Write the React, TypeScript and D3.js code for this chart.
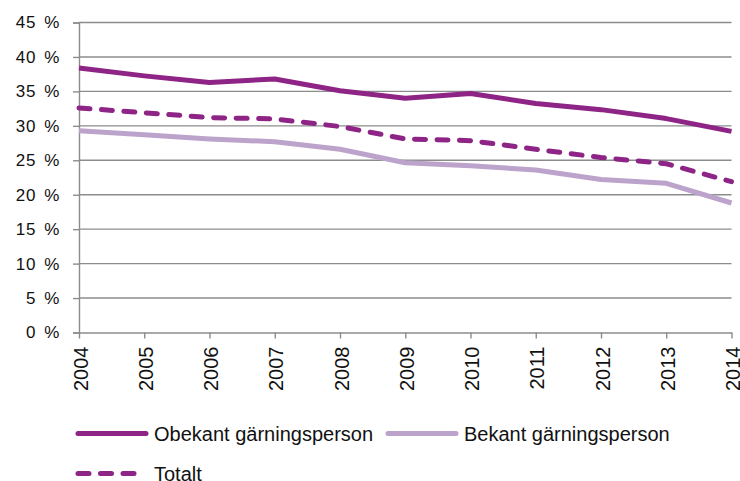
import React, { useRef, useEffect } from "react";
import * as d3 from "d3";

const years = ["2004", "2005", "2006", "2007", "2008", "2009", "2010", "2011", "2012", "2013", "2014"];
const obekant = [38.4, 37.25, 36.3, 36.8, 35.1, 34.0, 34.7, 33.25, 32.35, 31.05, 29.2];
const bekant = [29.3, 28.7, 28.1, 27.7, 26.6, 24.65, 24.2, 23.6, 22.2, 21.65, 18.8];
const totalt = [32.6, 31.9, 31.2, 31.0, 29.9, 28.1, 27.85, 26.6, 25.4, 24.5, 21.9];
const yTicks = [0, 5, 10, 15, 20, 25, 30, 35, 40, 45];

const series = [
  { name: "Bekant gärningsperson", values: bekant, color: "#bca3cb", dash: null },
  { name: "Totalt", values: totalt, color: "#8e2486", dash: "11 11.5" },
  { name: "Obekant gärningsperson", values: obekant, color: "#8e2486", dash: null },
];

const FONT = "'Liberation Sans', Arial, Helvetica, sans-serif";

function App() {
  const svgRef = useRef<SVGSVGElement>(null);

  useEffect(() => {
    const svg = d3.select(svgRef.current);
    svg.selectAll("*").remove();

    const x = d3.scalePoint().domain(years).range([79, 731.5]);
    const y = d3.scaleLinear().domain([0, 45]).range([332.5, 22.5]);
    const grey = "#8c8c8c";

    // gridlines
    svg
      .append("g")
      .selectAll("line")
      .data(yTicks.filter((d) => d > 0))
      .join("line")
      .attr("x1", 79)
      .attr("x2", 731.5)
      .attr("y1", (d) => y(d))
      .attr("y2", (d) => y(d))
      .attr("stroke", grey)
      .attr("stroke-width", 1.4);

    // y axis
    const yAxis = svg
      .append("g")
      .attr("transform", "translate(79,0)")
      .call(
        d3
          .axisLeft(y)
          .tickValues(yTicks)
          .tickSize(6)
          .tickPadding(13)
          .tickFormat((d) => d + " %")
      );
    yAxis.select(".domain").attr("stroke", grey).attr("stroke-width", 1.4);
    yAxis.selectAll(".tick line").attr("stroke", grey).attr("stroke-width", 1.4);
    yAxis
      .selectAll(".tick text")
      .attr("font-family", FONT)
      .attr("font-size", 17)
      .attr("letter-spacing", 0.6)
      .attr("word-spacing", 3)
      .attr("fill", "#111");

    // x axis
    const xAxis = svg
      .append("g")
      .attr("transform", "translate(0,332.5)")
      .call(d3.axisBottom(x).tickSize(6).tickSizeOuter(0));
    xAxis.select(".domain").attr("stroke", grey).attr("stroke-width", 1.4);
    xAxis.selectAll(".tick line").attr("stroke", grey).attr("stroke-width", 1.4);
    xAxis
      .selectAll(".tick text")
      .attr("font-family", FONT)
      .attr("font-size", 20)
      .attr("fill", "#111")
      .attr("text-anchor", "end")
      .attr("transform", "translate(1,14) rotate(-90)")
      .attr("x", 0)
      .attr("y", 0)
      .attr("dy", "0.36em");

    // lines
    const line = d3
      .line<number>()
      .x((_, i) => x(years[i]) as number)
      .y((d) => y(d));

    svg
      .append("g")
      .selectAll("path")
      .data(series)
      .join("path")
      .attr("d", (s) => line(s.values))
      .attr("fill", "none")
      .attr("stroke", (s) => s.color)
      .attr("stroke-width", 5)
      .attr("stroke-linejoin", "round")
      .attr("stroke-linecap", (s) => (s.dash ? "round" : "butt"))
      .attr("stroke-dasharray", (s) => s.dash);

    // legend
    const legendItems = [
      { s: series[2], x: 78, y: 433.5 },
      { s: series[0], x: 388, y: 433.5 },
      { s: series[1], x: 78, y: 473.5 },
    ];
    const legend = svg
      .append("g")
      .selectAll("g")
      .data(legendItems)
      .join("g")
      .attr("transform", (d) => `translate(${d.x},${d.y})`);
    legend
      .append("line")
      .attr("x1", 0)
      .attr("x2", (d) => (d.s.dash ? 60 : 68))
      .attr("y1", 0)
      .attr("y2", 0)
      .attr("stroke", (d) => d.s.color)
      .attr("stroke-width", 5)
      .attr("stroke-linecap", "round")
      .attr("stroke-dasharray", (d) => d.s.dash);
    legend
      .append("text")
      .attr("x", 76)
      .attr("dy", "0.36em")
      .attr("font-family", FONT)
      .attr("font-size", 20)
      .attr("fill", "#111")
      .text((d) => d.s.name);
  }, []);

  return (
    <svg
      ref={svgRef}
      width={740}
      height={481}
      style={{ position: "absolute", left: 0, top: 0, background: "#fff" }}
    />
  );
}

export default App;
